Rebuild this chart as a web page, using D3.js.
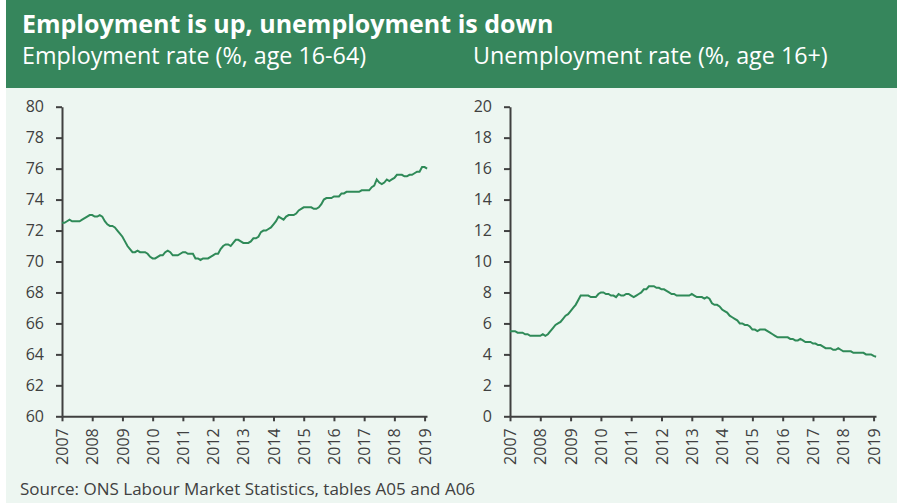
<!DOCTYPE html>
<html>
<head>
<meta charset="utf-8">
<script src="https://cdn.jsdelivr.net/npm/d3@7"></script>
<style>
  body { margin: 0; background: #fff; }
  text { font-family: "Open Sans", sans-serif; }
</style>
</head>
<body>
<div id="chart"></div>
<script>
/* Employment and unemployment, two small line charts side by side */

// monthly values, Jan 2007 to Feb 2019
const startYear = 2007;
const employment = [
  72.5, 72.5, 72.6, 72.7, 72.6, 72.6, 72.6, 72.6, 72.7, 72.8, 72.9, 73.0, // 2007
  73.0, 72.9, 72.9, 73.0, 72.9, 72.6, 72.4, 72.3, 72.3, 72.2, 72.0, 71.8, // 2008
  71.6, 71.3, 71.0, 70.8, 70.6, 70.6, 70.7, 70.6, 70.6, 70.6, 70.5, 70.3, // 2009
  70.2, 70.2, 70.3, 70.4, 70.4, 70.6, 70.7, 70.6, 70.4, 70.4, 70.4, 70.5, // 2010
  70.6, 70.6, 70.5, 70.5, 70.5, 70.2, 70.2, 70.1, 70.2, 70.2, 70.2, 70.3, // 2011
  70.4, 70.5, 70.5, 70.8, 71.0, 71.1, 71.1, 71.0, 71.2, 71.4, 71.4, 71.3, // 2012
  71.2, 71.2, 71.2, 71.3, 71.5, 71.5, 71.6, 71.9, 72.0, 72.0, 72.1, 72.2, // 2013
  72.4, 72.6, 72.9, 72.8, 72.7, 72.9, 73.0, 73.0, 73.0, 73.1, 73.3, 73.4, // 2014
  73.5, 73.5, 73.5, 73.5, 73.4, 73.4, 73.5, 73.7, 74.0, 74.1, 74.1, 74.1, // 2015
  74.2, 74.2, 74.2, 74.4, 74.4, 74.5, 74.5, 74.5, 74.5, 74.5, 74.5, 74.6, // 2016
  74.6, 74.6, 74.6, 74.8, 74.9, 75.3, 75.1, 75.0, 75.1, 75.3, 75.2, 75.3, // 2017
  75.4, 75.6, 75.6, 75.6, 75.5, 75.5, 75.6, 75.6, 75.7, 75.8, 75.8, 76.1, // 2018
  76.1, 76.0                                                              // 2019
];
const unemployment = [
  5.5, 5.5, 5.5, 5.4, 5.4, 5.4, 5.3, 5.3, 5.2, 5.2, 5.2, 5.2, // 2007
  5.2, 5.3, 5.2, 5.3, 5.5, 5.7, 5.9, 6.0, 6.1, 6.3, 6.5, 6.6, // 2008
  6.8, 7.0, 7.2, 7.5, 7.8, 7.8, 7.8, 7.8, 7.7, 7.7, 7.7, 7.9, // 2009
  8.0, 8.0, 7.9, 7.9, 7.8, 7.8, 7.7, 7.9, 7.8, 7.8, 7.9, 7.9, // 2010
  7.8, 7.7, 7.8, 7.9, 8.0, 8.2, 8.2, 8.4, 8.4, 8.4, 8.3, 8.3, // 2011
  8.2, 8.2, 8.1, 8.0, 7.9, 7.9, 7.8, 7.8, 7.8, 7.8, 7.8, 7.8, // 2012
  7.9, 7.8, 7.7, 7.7, 7.7, 7.6, 7.7, 7.6, 7.3, 7.2, 7.2, 7.1, // 2013
  6.9, 6.8, 6.7, 6.5, 6.4, 6.3, 6.2, 6.0, 6.0, 5.9, 5.9, 5.8, // 2014
  5.6, 5.6, 5.5, 5.6, 5.6, 5.6, 5.5, 5.4, 5.3, 5.2, 5.1, 5.1, // 2015
  5.1, 5.1, 5.1, 5.0, 5.0, 4.9, 4.9, 5.0, 4.9, 4.8, 4.8, 4.8, // 2016
  4.7, 4.7, 4.6, 4.6, 4.5, 4.4, 4.4, 4.4, 4.3, 4.3, 4.4, 4.3, // 2017
  4.2, 4.2, 4.2, 4.2, 4.1, 4.1, 4.1, 4.1, 4.1, 4.0, 4.0, 4.0, // 2018
  3.9, 3.85                                                   // 2019
];
const yearTicks = d3.range(2007, 2020);
const empTicks = [60, 62, 64, 66, 68, 70, 72, 74, 76, 78, 80];
const unempTicks = [0, 2, 4, 6, 8, 10, 12, 14, 16, 18, 20];

const width = 897, height = 503;
const green = "#36865c", mint = "#edf6f1", lineCol = "#2f8a58", ink = "#404040";

const svg = d3.select("#chart")
  .append("svg")
  .attr("width", width)
  .attr("height", height);

// backgrounds: mint panel and green header
svg.append("rect").attr("x", 6).attr("y", 0).attr("width", width - 6).attr("height", height).attr("fill", mint);
svg.append("rect").attr("x", 6).attr("y", 0).attr("width", width - 6).attr("height", 88).attr("fill", green);

svg.append("text")
  .attr("x", 22).attr("y", 33)
  .attr("fill", "#fff")
  .style("font-size", "25px").style("font-weight", "bold")
  .text("Employment is up, unemployment is down");

svg.append("text")
  .attr("x", 22).attr("y", 64)
  .attr("fill", "#fff")
  .style("font-size", "23.3px")
  .text("Employment rate (%, age 16-64)");

svg.append("text")
  .attr("x", 473).attr("y", 64)
  .attr("fill", "#fff")
  .style("font-size", "23.3px")
  .text("Unemployment rate (%, age 16+)");

svg.append("text")
  .attr("x", 20).attr("y", 495)
  .attr("fill", ink)
  .style("font-size", "17px")
  .text("Source: ONS Labour Market Statistics, tables A05 and A06");

// one panel = y axis, x axis and the line
function panel(values, ticks, left, right) {
  const top = 106.7, bottom = 416.3;
  const x = d3.scaleLinear()
    .domain([startYear, startYear + 12.08])
    .range([left, right]);
  const y = d3.scaleLinear()
    .domain([ticks[0], ticks[ticks.length - 1]])
    .range([bottom, top]);

  const yAxis = svg.append("g")
    .attr("transform", `translate(${left},0)`)
    .call(d3.axisLeft(y).tickValues(ticks).tickSize(6).tickSizeOuter(0).tickPadding(12));

  const xAxis = svg.append("g")
    .attr("transform", `translate(0,${bottom})`)
    .call(d3.axisBottom(x).tickValues(yearTicks).tickFormat(d3.format("d")).tickSize(5).tickSizeOuter(0));

  xAxis.selectAll("text")
    .attr("transform", "rotate(-90)")
    .attr("text-anchor", "end")
    .attr("x", -12)
    .attr("y", 0)
    .attr("dy", "0.35em");

  for (const g of [yAxis, xAxis]) {
    g.select(".domain").attr("stroke", ink).attr("stroke-width", 2);
    g.selectAll(".tick line").attr("stroke", ink).attr("stroke-width", 2);
    g.selectAll("text").attr("fill", ink).style("font-size", "16px").style("font-family", "Open Sans");
  }

  const line = d3.line()
    .x((d, i) => x(startYear + i / 12))
    .y(d => y(d));

  svg.append("path")
    .datum(values)
    .attr("d", line)
    .attr("fill", "none")
    .attr("stroke", lineCol)
    .attr("stroke-width", 2);
}

panel(employment, empTicks, 62, 427);
panel(unemployment, unempTicks, 510, 876);
</script>
</body>
</html>
